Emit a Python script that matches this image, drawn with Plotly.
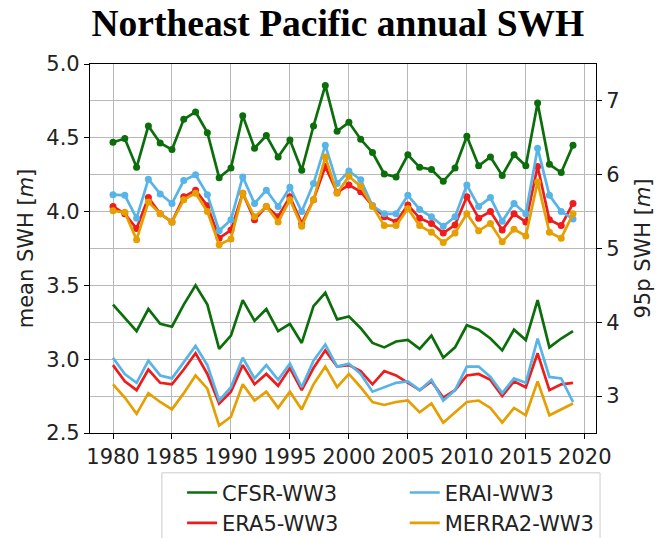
import plotly.graph_objects as go

years = list(range(1980, 2020))

cfsr_95 = [6.44, 6.49, 6.10, 6.66, 6.43, 6.34, 6.75, 6.85, 6.57, 5.96,
           6.09, 6.80, 6.36, 6.53, 6.24, 6.47, 6.06, 6.66, 7.21, 6.59,
           6.71, 6.48, 6.30, 6.01, 5.97, 6.27, 6.10, 6.07, 5.91, 6.09,
           6.52, 6.12, 6.24, 5.99, 6.27, 6.12, 6.97, 6.14, 6.03, 6.40]
erai_95 = [5.73, 5.72, 5.41, 5.94, 5.74, 5.61, 5.92, 6.00, 5.73, 5.24,
           5.39, 5.97, 5.61, 5.79, 5.57, 5.83, 5.50, 5.88, 6.40, 5.88,
           6.05, 5.93, 5.58, 5.47, 5.47, 5.72, 5.53, 5.43, 5.30, 5.43,
           5.86, 5.57, 5.69, 5.37, 5.61, 5.47, 6.36, 5.72, 5.50, 5.40]
era5_95 = [5.57, 5.47, 5.27, 5.69, 5.47, 5.36, 5.70, 5.79, 5.58, 5.14,
           5.25, 5.75, 5.39, 5.57, 5.43, 5.70, 5.34, 5.66, 6.11, 5.76,
           5.86, 5.77, 5.58, 5.43, 5.36, 5.59, 5.41, 5.34, 5.21, 5.32,
           5.70, 5.41, 5.50, 5.25, 5.47, 5.36, 6.11, 5.39, 5.31, 5.61]
merra2_95 = [5.51, 5.49, 5.12, 5.63, 5.47, 5.36, 5.66, 5.75, 5.50, 5.05,
             5.13, 5.75, 5.43, 5.57, 5.36, 5.66, 5.30, 5.66, 6.24, 5.75,
             5.98, 5.84, 5.57, 5.31, 5.31, 5.54, 5.31, 5.22, 5.08, 5.21,
             5.47, 5.24, 5.34, 5.09, 5.26, 5.17, 5.90, 5.22, 5.14, 5.47]

cfsr_mean = [3.37, 3.28, 3.19, 3.34, 3.24, 3.22, 3.37, 3.50, 3.37, 3.07,
             3.16, 3.40, 3.26, 3.34, 3.19, 3.24, 3.11, 3.36, 3.45, 3.27,
             3.29, 3.21, 3.11, 3.08, 3.12, 3.13, 3.07, 3.16, 3.01, 3.08,
             3.23, 3.20, 3.14, 3.06, 3.20, 3.13, 3.40, 3.08, 3.14, 3.19]
erai_mean = [3.01, 2.90, 2.84, 2.99, 2.89, 2.87, 2.98, 3.09, 2.96, 2.72,
             2.81, 3.01, 2.87, 2.96, 2.86, 2.97, 2.81, 2.99, 3.10, 2.95,
             2.97, 2.90, 2.78, 2.81, 2.84, 2.85, 2.79, 2.86, 2.72, 2.79,
             2.95, 2.95, 2.88, 2.77, 2.87, 2.84, 3.14, 2.88, 2.87, 2.71]
era5_mean = [2.96, 2.85, 2.79, 2.93, 2.84, 2.83, 2.93, 3.04, 2.90, 2.70,
             2.78, 2.96, 2.83, 2.90, 2.82, 2.94, 2.79, 2.94, 3.06, 2.95,
             2.96, 2.92, 2.83, 2.92, 2.89, 2.84, 2.79, 2.85, 2.74, 2.79,
             2.89, 2.90, 2.86, 2.75, 2.85, 2.81, 3.04, 2.79, 2.83, 2.84]
merra2_mean = [2.83, 2.74, 2.63, 2.77, 2.71, 2.66, 2.77, 2.89, 2.80, 2.55,
               2.61, 2.83, 2.72, 2.78, 2.67, 2.78, 2.66, 2.83, 2.95, 2.81,
               2.90, 2.81, 2.71, 2.69, 2.71, 2.72, 2.64, 2.70, 2.57, 2.64,
               2.71, 2.72, 2.67, 2.57, 2.67, 2.62, 2.85, 2.62, 2.66, 2.70]

names = ["CFSR-WW3", "ERA5-WW3", "ERAI-WW3", "MERRA2-WW3"]
colors = ["#0b6e0b", "#ee1c1c", "#56b4e9", "#e69f00"]
legend_ids = ["legend", "legend", "legend2", "legend2"]
means = [cfsr_mean, era5_mean, erai_mean, merra2_mean]
p95s = [cfsr_95, era5_95, erai_95, merra2_95]

fig = go.Figure()
for name, c, lg, m in zip(names, colors, legend_ids, means):
    fig.add_trace(go.Scatter(x=years, y=m, mode="lines", name=name,
                             line=dict(color=c, width=2.7), legend=lg,
                             yaxis="y"))
for name, c, p in zip(names, colors, p95s):
    fig.add_trace(go.Scatter(x=years, y=p, mode="lines+markers", name=name,
                             line=dict(color=c, width=2.7),
                             marker=dict(color=c, size=7),
                             showlegend=False, yaxis="y2"))

FS = 21
tick_font = dict(family="DejaVu Sans", size=FS, color="#222222")
grid = "#b8b8b8"
leg_font = dict(family="DejaVu Sans", size=FS, color="#222222")

fig.update_layout(
    width=656, height=538,
    margin=dict(l=90, r=60, t=64, b=105),
    paper_bgcolor="white", plot_bgcolor="white",
    title=dict(text="<b>Northeast Pacific annual SWH</b>",
               font=dict(family="Liberation Serif", size=37.5, color="black"),
               x=0.515, xanchor="center", y=0.958, yanchor="middle",
               yref="container"),
    xaxis=dict(range=[1978.05, 2020.95], tick0=1980, dtick=5, tickangle=0,
               showgrid=True, gridcolor=grid, gridwidth=1.2, automargin=False,
               showline=True, linecolor="black", linewidth=1.2, mirror=True,
               ticks="outside", ticklen=5, tickcolor="black",
               tickfont=tick_font, zeroline=False),
    yaxis=dict(range=[2.5, 5.0], tick0=2.5, dtick=0.5, tickformat=".1f",
               showgrid=True, gridcolor=grid, gridwidth=1.2, automargin=False,
               showline=True, linecolor="black", linewidth=1.2, mirror=True,
               ticks="outside", ticklen=5, tickcolor="black",
               tickfont=tick_font, zeroline=False,
               title=dict(text="mean SWH [<i>m</i>]",
                          font=dict(family="DejaVu Sans", size=FS, color="#222222"),
                          standoff=6)),
    yaxis2=dict(range=[2.5, 7.5], tick0=3, dtick=1, overlaying="y", side="right",
                showgrid=True, gridcolor=grid, gridwidth=1.2, automargin=False,
                showline=True, linecolor="black", linewidth=1.2,
                ticks="outside", ticklen=5, tickcolor="black",
                tickfont=tick_font, zeroline=False,
                title=dict(text="95p SWH [<i>m</i>]",
                           font=dict(family="DejaVu Sans", size=FS, color="#222222"),
                           standoff=16)),
    legend=dict(orientation="v", x=0.182, xanchor="left",
                yref="container", y=0.122, yanchor="top",
                font=leg_font, borderwidth=0, bgcolor="rgba(0,0,0,0)",
                tracegroupgap=0),
    legend2=dict(orientation="v", x=0.622, xanchor="left",
                 yref="container", y=0.122, yanchor="top",
                 font=leg_font, borderwidth=0, bgcolor="rgba(0,0,0,0)",
                 tracegroupgap=0),
    shapes=[dict(type="rect", xref="paper", yref="paper",
                 x0=0.142, x1=1.008, y0=-0.108, y1=-0.30,
                 line=dict(color="#cccccc", width=1), fillcolor="rgba(0,0,0,0)",
                 layer="above")],
    showlegend=True,
)

fig.write_html("out.html", config={"displayModeBar": False},
               post_script="document.body.style.margin='0px';")
